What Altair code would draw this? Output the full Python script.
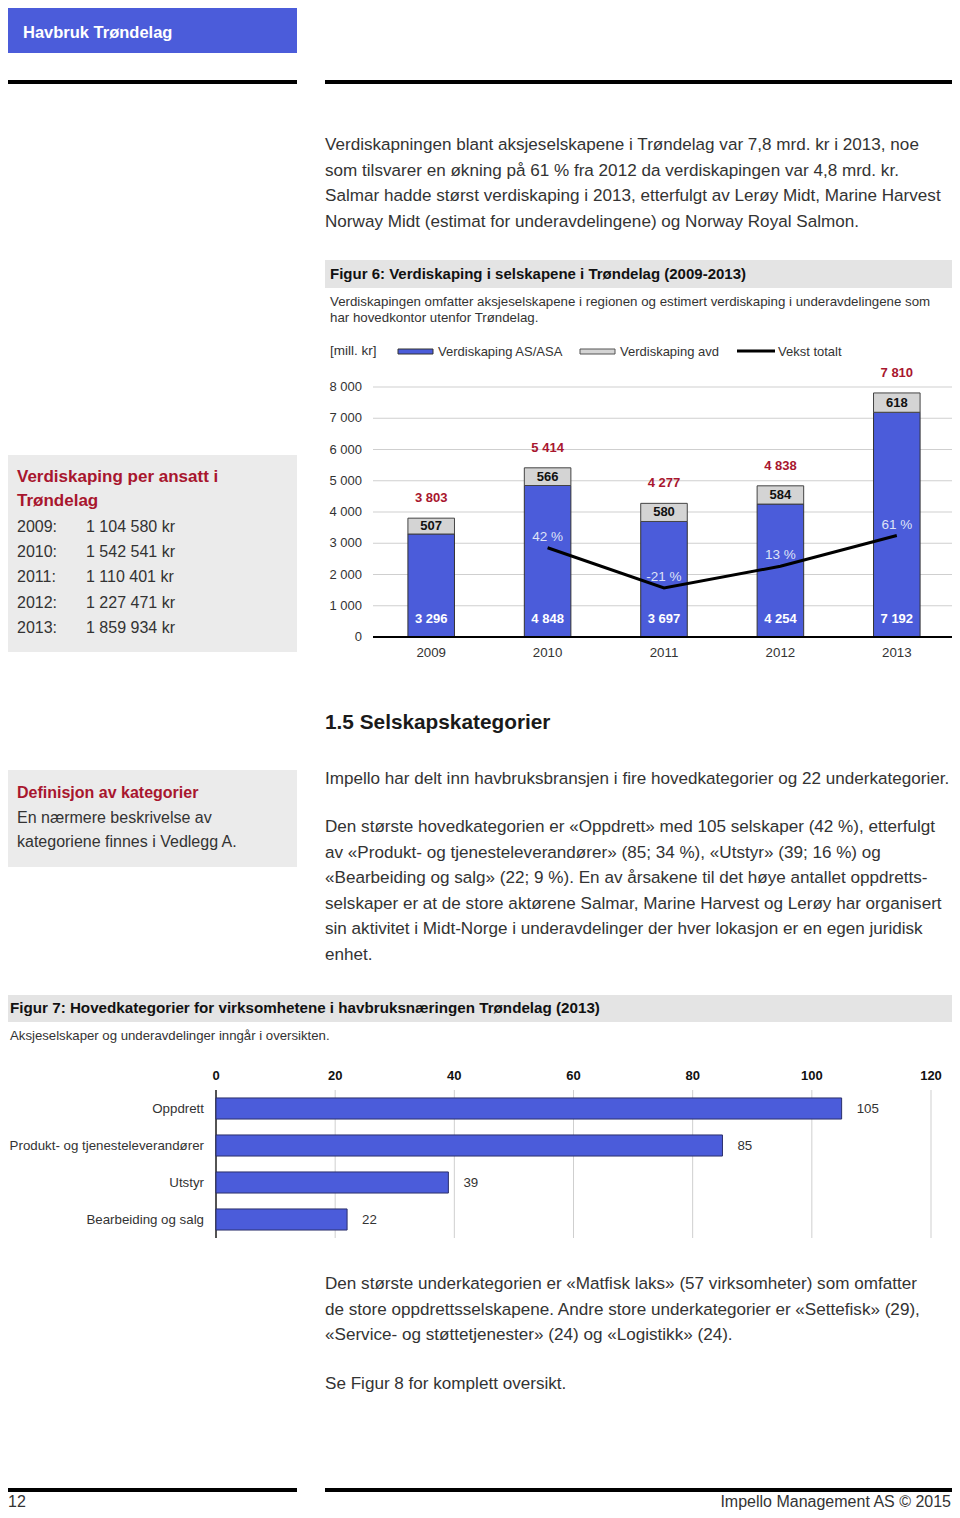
import altair as alt
import pandas as pd

# ---------------- data ----------------
years = ["2009", "2010", "2011", "2012", "2013"]
as_values = [3296, 4848, 3697, 4254, 7192]
avd_values = [507, 566, 580, 584, 618]
total_values = [3803, 5414, 4277, 4838, 7810]
growth_years = ["2010", "2011", "2012", "2013"]
growth_values = [42, -21, 13, 61]
y6_ticks = [0, 1000, 2000, 3000, 4000, 5000, 6000, 7000, 8000]

per_ansatt_years = ["2009:", "2010:", "2011:", "2012:", "2013:"]
per_ansatt_values = ["1 104 580 kr", "1 542 541 kr", "1 110 401 kr", "1 227 471 kr", "1 859 934 kr"]

categories = ["Oppdrett", "Produkt- og tjenesteleverandører", "Utstyr", "Bearbeiding og salg"]
cat_counts = [105, 85, 39, 22]
x7_ticks = [0, 20, 40, 60, 80, 100, 120]

para1 = [
    "Verdiskapningen blant aksjeselskapene i Trøndelag var 7,8 mrd. kr i 2013, noe",
    "som tilsvarer en økning på 61 % fra 2012 da verdiskapingen var 4,8 mrd. kr.",
    "Salmar hadde størst verdiskaping i 2013, etterfulgt av Lerøy Midt, Marine Harvest",
    "Norway Midt (estimat for underavdelingene) og Norway Royal Salmon.",
]
para2 = [
    "Den største hovedkategorien er «Oppdrett» med 105 selskaper (42 %), etterfulgt",
    "av «Produkt- og tjenesteleverandører» (85; 34 %), «Utstyr» (39; 16 %) og",
    "«Bearbeiding og salg» (22; 9 %). En av årsakene til det høye antallet oppdretts-",
    "selskaper er at de store aktørene Salmar, Marine Harvest og Lerøy har organisert",
    "sin aktivitet i Midt-Norge i underavdelinger der hver lokasjon er en egen juridisk",
    "enhet.",
]
para3 = [
    "Den største underkategorien er «Matfisk laks» (57 virksomheter) som omfatter",
    "de store oppdrettsselskapene. Andre store underkategorier er «Settefisk» (29),",
    "«Service- og støttetjenester» (24) og «Logistikk» (24).",
]

# ---------------- styles ----------------
FONT = "Liberation Sans"
BLUE = "#4B5CDA"
RED = "#A8162E"
TXT = "#333333"
GRID = "#cfcfcf"
BOXFILL = "#ebebeb"
BARFILL = "#e4e4e4"
BODY = 17.1


def fmt(v):
    return f"{v:,}".replace(",", " ")


def X(v):
    return v - 8


def Y(v):
    return v - 8


anchor = pd.DataFrame({"a": [0]})
layers = []


def rect(x0, y0, x1, y1, fill, stroke=None, sw=0):
    kw = dict(fill=fill)
    if stroke:
        kw.update(stroke=stroke, strokeWidth=sw)
    layers.append(
        alt.Chart(anchor).mark_rect(**kw).encode(
            x=alt.value(X(x0)), x2=alt.value(X(x1)), y=alt.value(Y(y0)), y2=alt.value(Y(y1))
        )
    )


def text(s, x, y, size=16, weight="normal", color=TXT, align="left"):
    layers.append(
        alt.Chart(anchor).mark_text(
            text=s, align=align, baseline="middle", fontSize=size,
            fontWeight=weight, color=color, font=FONT
        ).encode(x=alt.value(X(x)), y=alt.value(Y(y)))
    )


def lines(arr, x, y0, step, size=BODY, **kw):
    for i, s in enumerate(arr):
        text(s, x, y0 + i * step, size=size, **kw)


# ---------------- page decoration ----------------
rect(0, 0, 297, 53, BLUE)
text("Havbruk Trøndelag", 23, 33, size=16.5, weight="bold", color="white")
rect(0, 80, 297, 84, "#000000")
rect(325, 80, 960, 84, "#000000")

lines(para1, 325, 145, 25.7)

# Figure 6 header
rect(325, 260, 958, 288, BARFILL)
text("Figur 6: Verdiskaping i selskapene i Trøndelag (2009-2013)", 330, 274, size=15, weight="bold", color="#111111")
text("Verdiskapingen omfatter aksjeselskapene i regionen og estimert verdiskaping i underavdelingene som", 330, 302, size=13.3)
text("har hovedkontor utenfor Trøndelag.", 330, 318, size=13.3)

# legend
text("[mill. kr]", 330, 351, size=13.5)
rect(398, 349, 433, 354, BLUE, stroke="#333333", sw=1)
text("Verdiskaping AS/ASA", 438, 352, size=13)
rect(580, 349, 615, 354, "#d4d4d4", stroke="#555555", sw=1)
text("Verdiskaping avd", 620, 352, size=13)
layers.append(
    alt.Chart(anchor).mark_rule(color="black", strokeWidth=3).encode(
        x=alt.value(X(737)), x2=alt.value(X(775)), y=alt.value(Y(351))
    )
)
text("Vekst totalt", 778, 352, size=13)

# ---------------- Figure 6 chart ----------------
x6 = alt.Scale(type="band", domain=years, range=[X(373), X(955)], paddingInner=0.6, paddingOuter=0.3)
y6 = alt.Scale(domain=[0, 8000], range=[Y(637), Y(387)], nice=False, zero=True)
yg = alt.Scale(domain=[-100, 300], range=[Y(638.6), Y(382.6)], nice=False, zero=False)

df_ticks6 = pd.DataFrame({"t": y6_ticks, "lab": [fmt(v) for v in y6_ticks]})
layers.append(
    alt.Chart(df_ticks6).mark_rule(color=GRID, strokeWidth=1).encode(
        y=alt.Y("t:Q", scale=y6, axis=None), x=alt.value(X(373)), x2=alt.value(X(955))
    )
)
layers.append(
    alt.Chart(df_ticks6).mark_text(align="right", baseline="middle", fontSize=13, font=FONT, color=TXT).encode(
        y=alt.Y("t:Q", scale=y6, axis=None), x=alt.value(X(362)), text="lab:N"
    )
)

df6 = pd.DataFrame({
    "year": years,
    "as": as_values,
    "avd": avd_values,
    "total": total_values,
})
df6["mid"] = df6["as"] + df6["avd"] / 2
df6["as_lab"] = [fmt(v) for v in as_values]
df6["avd_lab"] = [fmt(v) for v in avd_values]
df6["tot_lab"] = [fmt(v) for v in total_values]

base6 = alt.Chart(df6)
layers.append(
    base6.mark_bar(color=BLUE, stroke="#333333", strokeWidth=1).encode(
        x=alt.X("year:N", scale=x6, axis=None), y=alt.Y("as:Q", scale=y6, axis=None)
    )
)
layers.append(
    base6.mark_bar(color="#d4d4d4", stroke="#444444", strokeWidth=1).encode(
        x=alt.X("year:N", scale=x6, axis=None), y=alt.Y("as:Q", scale=y6, axis=None), y2="total:Q"
    )
)
# baseline
layers.append(
    alt.Chart(pd.DataFrame({"z": [0]})).mark_rule(color="black", strokeWidth=2).encode(
        y=alt.Y("z:Q", scale=y6, axis=None), x=alt.value(X(373)), x2=alt.value(X(955))
    )
)
# growth line
dfg = pd.DataFrame({"year": growth_years, "g": growth_values})
dfg["lab"] = [f"{v} %" for v in growth_values]
layers.append(
    alt.Chart(dfg).mark_line(color="black", strokeWidth=3).encode(
        x=alt.X("year:N", scale=x6, axis=None), y=alt.Y("g:Q", scale=yg, axis=None)
    )
)
layers.append(
    alt.Chart(dfg).mark_text(fontSize=13.5, font=FONT, color="#dfe3f7", baseline="middle", dy=-11).encode(
        x=alt.X("year:N", scale=x6, axis=None), y=alt.Y("g:Q", scale=yg, axis=None), text="lab:N"
    )
)
# labels
layers.append(
    base6.mark_text(fontSize=13, font=FONT, fontWeight="bold", color="white", baseline="middle").encode(
        x=alt.X("year:N", scale=x6, axis=None), y=alt.value(Y(619)), text="as_lab:N"
    )
)
layers.append(
    base6.mark_text(fontSize=13, font=FONT, fontWeight="bold", color="#111111", baseline="middle").encode(
        x=alt.X("year:N", scale=x6, axis=None), y=alt.Y("mid:Q", scale=y6, axis=None), text="avd_lab:N"
    )
)
layers.append(
    base6.mark_text(fontSize=13, font=FONT, fontWeight="bold", color=RED, baseline="middle", dy=-20).encode(
        x=alt.X("year:N", scale=x6, axis=None), y=alt.Y("total:Q", scale=y6, axis=None), text="tot_lab:N"
    )
)
layers.append(
    base6.mark_text(fontSize=13.3, font=FONT, color=TXT, baseline="middle").encode(
        x=alt.X("year:N", scale=x6, axis=None), y=alt.value(Y(653)), text="year:N"
    )
)

# ---------------- left box ----------------
rect(0, 455, 297, 652, BOXFILL)
text("Verdiskaping per ansatt i", 17, 477, size=17, weight="bold", color=RED)
text("Trøndelag", 17, 501, size=17, weight="bold", color=RED)
for i, (yy, vv) in enumerate(zip(per_ansatt_years, per_ansatt_values)):
    text(yy, 17, 527 + i * 25.2)
    text(vv, 86, 527 + i * 25.2)

# ---------------- section 1.5 ----------------
text("1.5 Selskapskategorier", 325, 723, size=20.8, weight="bold", color="#1a1a1a")
rect(0, 770, 297, 867, BOXFILL)
text("Definisjon av kategorier", 17, 793, size=16, weight="bold", color=RED)
text("En nærmere beskrivelse av", 17, 818)
text("kategoriene finnes i Vedlegg A.", 17, 842)
text("Impello har delt inn havbruksbransjen i fire hovedkategorier og 22 underkategorier.", 325, 779, size=BODY)
lines(para2, 325, 827, 25.6)

# ---------------- Figure 7 ----------------
rect(0, 995, 958, 1022, BARFILL)
text("Figur 7: Hovedkategorier for virksomhetene i havbruksnæringen Trøndelag (2013)", 10, 1008, size=15.2, weight="bold", color="#111111")
text("Aksjeselskaper og underavdelinger inngår i oversikten.", 10, 1036, size=13.2)

x7 = alt.Scale(domain=[0, 120], range=[X(216), X(931)], nice=False, zero=True)
y7 = alt.Scale(type="band", domain=categories, range=[Y(1090), Y(1238)], paddingInner=0.43, paddingOuter=0.215)

df_t7 = pd.DataFrame({"t": x7_ticks})
layers.append(
    alt.Chart(df_t7).mark_rule(color=GRID, strokeWidth=1).encode(
        x=alt.X("t:Q", scale=x7, axis=None), y=alt.value(Y(1090)), y2=alt.value(Y(1238))
    )
)
layers.append(
    alt.Chart(df_t7).mark_text(fontSize=13, font=FONT, fontWeight="bold", color="#111111", baseline="middle").encode(
        x=alt.X("t:Q", scale=x7, axis=None), y=alt.value(Y(1076)), text="t:Q"
    )
)
layers.append(
    alt.Chart(pd.DataFrame({"z": [0]})).mark_rule(color="#222222", strokeWidth=1.5).encode(
        x=alt.X("z:Q", scale=x7, axis=None), y=alt.value(Y(1090)), y2=alt.value(Y(1238))
    )
)
df7 = pd.DataFrame({"cat": categories, "n": cat_counts})
base7 = alt.Chart(df7)
layers.append(
    base7.mark_bar(color=BLUE, stroke="#2b2f6b", strokeWidth=1).encode(
        y=alt.Y("cat:N", scale=y7, axis=None, sort=None), x=alt.X("n:Q", scale=x7, axis=None)
    )
)
layers.append(
    base7.mark_text(fontSize=13.3, font=FONT, color=TXT, align="left", baseline="middle", dx=15).encode(
        y=alt.Y("cat:N", scale=y7, axis=None, sort=None), x=alt.X("n:Q", scale=x7, axis=None), text="n:Q"
    )
)
layers.append(
    base7.mark_text(fontSize=13.3, font=FONT, color=TXT, align="right", baseline="middle").encode(
        y=alt.Y("cat:N", scale=y7, axis=None, sort=None), x=alt.value(X(204)), text="cat:N"
    )
)

# ---------------- bottom text ----------------
lines(para3, 325, 1284, 25.6)
text("Se Figur 8 for komplett oversikt.", 325, 1384, size=BODY)

# footer
rect(0, 1488, 297, 1492, "#000000")
rect(325, 1488, 960, 1492, "#000000")
text("12", 8, 1502)
text("Impello Management AS © 2015", 951, 1502, align="right")

chart = (
    alt.layer(*layers)
    .resolve_scale(x="independent", y="independent")
    .properties(width=944, height=1502, padding=0, autosize=alt.AutoSizeParams(type="none"))
    .configure_view(stroke=None)
)

chart.save("out.html", embed_options={"renderer": "svg", "actions": False})
